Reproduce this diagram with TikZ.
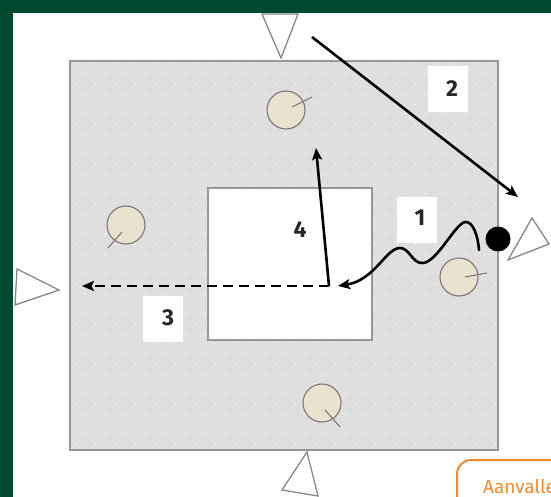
\documentclass[tikz,border=0pt]{standalone}
\usepackage{fontspec}
\setmainfont{Fira Sans}
\usetikzlibrary{arrows.meta}
\definecolor{dkgreen}{HTML}{004A2F}
\definecolor{fieldgray}{HTML}{DFDFDF}
\definecolor{fieldline}{HTML}{9A9696}
\definecolor{dotcol}{HTML}{F2F2F2}
\definecolor{playerfill}{HTML}{E8E2CF}
\definecolor{playerline}{HTML}{7E7676}
\definecolor{trigray}{HTML}{8C8585}
\definecolor{orangec}{HTML}{F28A2E}
\begin{document}
\begin{tikzpicture}[x=1pt,y=-1pt,
  player/.style={circle,draw=playerline,fill=playerfill,line width=1.1pt,minimum size=38pt,inner sep=0pt},
  facing/.style={draw=playerline,line width=1.1pt},
  cone/.style={draw=trigray,fill=white,line width=1.3pt,line join=miter},
  arr/.style={line width=2.6pt,-{Stealth[length=12pt,width=10pt,inset=2.5pt]}},
  lblbox/.style={fill=white,minimum width=40pt,minimum height=46pt,inner sep=0pt},
  lbl/.style={font=\fontsize{23}{26}\selectfont\bfseries,text=black!85,inner sep=0pt}
]
\useasboundingbox (0,0) rectangle (551,497);
% background
\fill[dkgreen] (0,0) rectangle (551,497);
\fill[white] (13,13) rectangle (551,497);
% field
\fill[fieldgray] (70,61) rectangle (498,450);
\begin{scope}
  \clip (70,61) rectangle (498,450);
  \foreach \r in {0,...,39}{
    \pgfmathsetmacro{\yy}{64+10*\r}
    \pgfmathsetmacro{\off}{mod(\r,2)*10}
    \foreach \c in {-1,...,21}{
      \fill[dotcol] ({75+\off+20*\c},\yy) circle (1.2pt);
    }
  }
\end{scope}
\draw[fieldline,line width=1.5pt] (70,61) rectangle (498,450);
\draw[fieldline,fill=white,line width=1.2pt] (208,188) rectangle (372,340);
% cones
\draw[cone] (262,14) -- (298,14) -- (281,58) -- cycle;
\draw[cone] (508,260) -- (532,218) -- (549,244) -- cycle;
\draw[cone] (17,269) -- (15,305) -- (59,290) -- cycle;
\draw[cone] (307,452) -- (282,490) -- (318,496) -- cycle;
% ball
\node[circle,fill=black,minimum size=25pt,inner sep=0pt] (ball) at (498,239) {};
% players
\node[player] (p1) at (286,110) {};
\node[player] (p2) at (126,225) {};
\node[player] (p3) at (459,277) {};
\node[player] (p4) at (322,403) {};
\draw[facing] (p1) ++(6,-3) -- ++(20,-10);
\draw[facing] (p2) ++(-4,7) -- ++(-14,16);
\draw[facing] (p3) ++(6,0) -- ++(22,-4);
\draw[facing] (p4) ++(3,7) -- ++(15,17);
% label boxes
\node[lblbox] (b2) at (447.5,89.5) {};
\node[lblbox] (b1) at (417,220) {};
\node[lblbox] (b3) at (163,318.5) {};
\node[lbl] (t2) at (452,89) {2};
\node[lbl] (t1) at (420,218) {1};
\node[lbl] (t3) at (168,318) {3};
\node[lbl] (t4) at (300,230) {4};
% arrows
\coordinate (a2s) at (312,37);
\coordinate (a2e) at (518,197);
\coordinate (pivot) at (329,286);
\coordinate (a3e) at (82,286);
\coordinate (a4e) at (316,148);
\coordinate (a1s) at (479,250);
\coordinate (a1e) at (338,286);
\draw[arr] (a2s) -- (a2e);
\draw[arr,dash pattern=on 10pt off 6pt] (pivot) -- (a3e);
\draw[arr] (pivot) -- (a4e);
\draw[arr,line cap=round] (a1s) .. controls (478,236) and (473,221) .. (465,222)
  .. controls (455,224) and (437,262) .. (423,263)
  .. controls (412,264) and (410,248) .. (400,248)
  .. controls (386,248) and (375,280) .. (a1e);
% legend box
\draw[orangec,line width=2pt,fill=white,rounded corners=14pt] (457,460) rectangle (620,560);
\node[anchor=base west,inner sep=0pt,text=orangec,font=\fontsize{19}{22}\selectfont] (leg) at (483,493) {Aanvalle};
\end{tikzpicture}
\end{document}
